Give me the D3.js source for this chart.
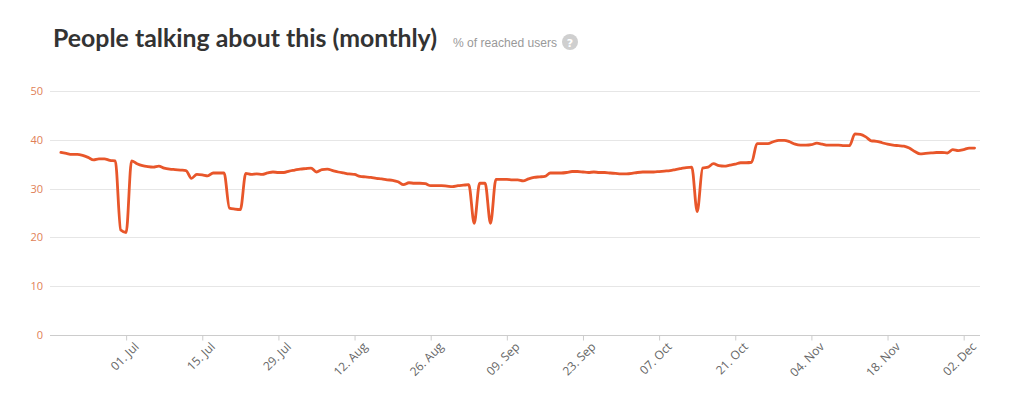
<!DOCTYPE html>
<html>
<head>
<meta charset="utf-8">
<script src="https://cdn.jsdelivr.net/npm/d3@7"></script>
<style>
  html, body { margin: 0; padding: 0; background: #fff; }
  svg { display: block; }
</style>
</head>
<body>
<svg id="chart" width="1024" height="396"></svg>
<script>
// ---- data ----
const titleText = "People talking about this (monthly)";
const subtitleText = "% of reached users";
const startDate = "2013-06-19";   // first daily value
const values = [
  37.4, 37.2, 37.0, 37.0, 36.8, 36.4, 35.9, 36.1, 36.1, 35.8, 35.7, 21.5,
  21.0, 35.7, 35.1, 34.7, 34.5, 34.4, 34.6, 34.2, 34.0, 33.9, 33.8, 33.7,
  32.1, 32.9, 32.8, 32.6, 33.2, 33.2, 33.2, 26.0, 25.8, 25.7, 33.1, 32.9,
  33.0, 32.9, 33.2, 33.4, 33.3, 33.3, 33.6, 33.8, 34.0, 34.1, 34.2, 33.4,
  33.9, 34.0, 33.7, 33.4, 33.2, 33.0, 32.9, 32.5, 32.4, 32.3, 32.1, 32.0,
  31.8, 31.7, 31.4, 30.8, 31.2, 31.1, 31.1, 31.0, 30.6, 30.6, 30.6, 30.5,
  30.4, 30.6, 30.7, 30.8, 22.9, 31.1, 31.1, 22.9, 31.9, 31.9, 31.9, 31.8,
  31.8, 31.6, 32.0, 32.3, 32.4, 32.5, 33.2, 33.2, 33.2, 33.3, 33.5, 33.5,
  33.4, 33.3, 33.4, 33.3, 33.3, 33.2, 33.1, 33.0, 33.0, 33.1, 33.3, 33.4,
  33.4, 33.4, 33.5, 33.6, 33.7, 33.9, 34.1, 34.3, 34.4, 25.3, 34.2, 34.4,
  35.1, 34.7, 34.6, 34.8, 35.0, 35.3, 35.3, 35.4, 39.2, 39.2, 39.2, 39.6,
  39.9, 39.9, 39.6, 39.1, 38.9, 38.9, 39.0, 39.3, 39.1, 38.9, 38.9, 38.9,
  38.8, 38.8, 41.2, 41.1, 40.6, 39.8, 39.7, 39.4, 39.1, 38.9, 38.8, 38.7,
  38.3, 37.6, 37.1, 37.2, 37.3, 37.4, 37.4, 37.3, 38.0, 37.8, 38.0, 38.3,
  38.3
];
const yTicks = [0, 10, 20, 30, 40, 50];
const xTickDates = ["2013-07-01", "2013-07-15", "2013-07-29", "2013-08-12", "2013-08-26",
  "2013-09-09", "2013-09-23", "2013-10-07", "2013-10-21", "2013-11-04", "2013-11-18", "2013-12-02"];

// ---- setup ----
const parse = d3.utcParse("%Y-%m-%d");
const fmt = d3.utcFormat("%d. %b");
const start = parse(startDate);
const series = values.map((v, i) => ({ date: d3.utcDay.offset(start, i), value: v }));

const svg = d3.select("#chart");
const plotLeft = 50, plotRight = 980, plotTop = 91, plotBottom = 335;

const x = d3.scaleUtc()
  .domain([d3.utcDay.offset(parse("2013-06-17"), 0.32), d3.utcDay.offset(parse("2013-12-05"), 0.6)])
  .range([plotLeft, plotRight]);
const y = d3.scaleLinear().domain([0, 50]).range([plotBottom, plotTop]);

// title
svg.append("text")
  .attr("x", 53).attr("y", 47)
  .attr("font-family", "Lato, 'Open Sans', sans-serif")
  .attr("font-weight", "bold")
  .attr("font-size", 24)
  .attr("fill", "#333")
  .attr("textLength", 384)
  .attr("lengthAdjust", "spacingAndGlyphs")
  .text(titleText);

svg.append("text")
  .attr("x", 453).attr("y", 47)
  .attr("font-family", "'Liberation Sans', Arial, sans-serif")
  .attr("font-size", 12)
  .attr("fill", "#999")
  .attr("textLength", 104)
  .attr("lengthAdjust", "spacingAndGlyphs")
  .text(subtitleText);

svg.append("circle").attr("cx", 570).attr("cy", 42).attr("r", 8).attr("fill", "#cfcfcf");
svg.append("text")
  .attr("x", 570).attr("y", 46.5)
  .attr("text-anchor", "middle")
  .attr("font-family", "'DejaVu Sans', sans-serif")
  .attr("font-weight", "bold")
  .attr("font-size", 11)
  .attr("fill", "#fff")
  .text("?");

// gridlines
svg.append("g").selectAll("line")
  .data(yTicks.filter(t => t > 0))
  .join("line")
  .attr("x1", plotLeft).attr("x2", plotRight)
  .attr("y1", d => Math.round(y(d)) + 0.5).attr("y2", d => Math.round(y(d)) + 0.5)
  .attr("stroke", "#e6e6e6").attr("stroke-width", 1);

// y axis labels
const yAxis = d3.axisLeft(y).tickValues(yTicks).tickSize(0).tickPadding(0);
const gy = svg.append("g").attr("transform", "translate(43,0)").call(yAxis);
gy.select(".domain").remove();
gy.selectAll("text")
  .attr("font-family", "'Open Sans', sans-serif")
  .attr("font-size", 11)
  .attr("fill", "#df7f57");

// x axis
const xAxis = d3.axisBottom(x).tickValues(xTickDates.map(parse)).tickSize(5).tickFormat(fmt);
const gx = svg.append("g").attr("transform", `translate(0,${Math.round(plotBottom) + 0.5})`).call(xAxis);
gx.select(".domain").attr("d", `M${plotLeft},0H${plotRight}`).attr("stroke", "#cccccc");
gx.selectAll(".tick line").attr("stroke", "#cccccc");
gx.selectAll(".tick text")
  .attr("font-family", "'Open Sans', sans-serif")
  .attr("font-size", 12)
  .attr("fill", "#666")
  .attr("text-anchor", "end")
  .attr("dy", null)
  .attr("y", 0)
  .attr("transform", "translate(13,12) rotate(-45)");

// line
const line = d3.line()
  .x(d => x(d.date))
  .y(d => y(d.value))
  .curve(d3.curveMonotoneX);

svg.append("path")
  .datum(series)
  .attr("d", line)
  .attr("fill", "none")
  .attr("stroke", "#e8562a")
  .attr("stroke-width", 2.8)
  .attr("stroke-linejoin", "round")
  .attr("stroke-linecap", "round");
</script>
</body>
</html>
